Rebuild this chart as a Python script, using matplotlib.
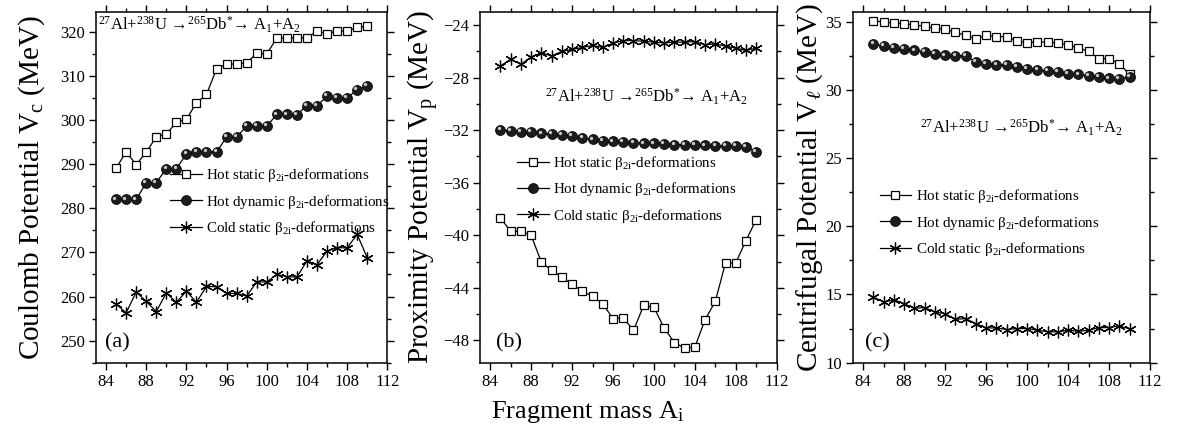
import matplotlib
matplotlib.use("Agg")
import matplotlib.pyplot as plt
from matplotlib.ticker import MultipleLocator
from matplotlib.transforms import ScaledTranslation
from matplotlib.lines import Line2D

plt.rcParams['font.family'] = ['Liberation Serif', 'DejaVu Serif']
plt.rcParams['mathtext.fontset'] = 'custom'
plt.rcParams['mathtext.rm'] = 'Liberation Serif'
plt.rcParams['mathtext.it'] = 'Liberation Serif:italic'
plt.rcParams['mathtext.bf'] = 'Liberation Serif:bold'

# ---------------- data ----------------
mass = list(range(85, 111))

vc_hot_static = [289.1, 292.8, 289.9, 292.7, 296.2, 296.8, 299.5, 300.2, 303.9, 305.8,
                 311.6, 312.7, 312.7, 313.0, 315.1, 315.0, 318.6, 318.6, 318.6, 318.6,
                 320.2, 319.6, 320.2, 320.2, 321.0, 321.3]
vc_hot_dynamic = [282.0, 282.0, 282.0, 285.8, 285.8, 289.0, 289.0, 292.3, 292.7, 292.7,
                  292.8, 296.1, 296.1, 298.7, 298.7, 298.6, 301.3, 301.3, 301.2, 303.3,
                  303.3, 305.4, 305.1, 305.0, 306.9, 307.7]
vc_cold_static = [258.3, 256.3, 261.0, 258.9, 256.6, 260.8, 258.7, 261.2, 258.7, 262.3,
                  262.2, 260.7, 260.7, 260.1, 263.3, 263.3, 265.0, 264.5, 264.4, 268.1,
                  267.2, 270.3, 271.1, 271.0, 274.1, 268.8]

vp_hot_static = [-38.67, -39.71, -39.69, -40.0, -42.05, -42.68, -43.19, -43.74, -44.25, -44.65,
                 -45.21, -46.35, -46.27, -47.24, -45.34, -45.49, -47.06, -48.17, -48.59, -48.51,
                 -46.43, -45.03, -42.09, -42.09, -40.4, -38.8]
vp_hot_dynamic = [-32.0, -32.05, -32.1, -32.15, -32.25, -32.3, -32.35, -32.45, -32.6, -32.7,
                  -32.8, -32.85, -32.9, -32.95, -33.0, -33.0, -33.05, -33.1, -33.1, -33.1,
                  -33.15, -33.2, -33.2, -33.2, -33.25, -33.65]
vp_cold_static = [-27.1, -26.6, -26.98, -26.43, -26.1, -26.35, -26.0, -25.85, -25.7, -25.55,
                  -25.7, -25.38, -25.18, -25.18, -25.23, -25.3, -25.35, -25.3, -25.3, -25.25,
                  -25.5, -25.43, -25.6, -25.75, -25.93, -25.75]

vl_hot_static = [35.07, 34.95, 34.9, 34.83, 34.76, 34.64, 34.51, 34.42, 34.22, 33.98,
                 33.74, 33.98, 33.9, 33.9, 33.57, 33.45, 33.5, 33.5, 33.42, 33.3,
                 33.06, 32.82, 32.28, 32.28, 31.92, 31.12]
vl_hot_dynamic = [33.37, 33.2, 33.06, 33.01, 32.89, 32.77, 32.65, 32.52, 32.48, 32.48,
                  32.04, 31.92, 31.84, 31.8, 31.67, 31.55, 31.48, 31.36, 31.31, 31.19,
                  31.12, 31.02, 30.95, 30.83, 30.78, 30.95]
vl_cold_static = [14.81, 14.44, 14.61, 14.32, 14.0, 14.03, 13.71, 13.59, 13.18, 13.23,
                  12.86, 12.55, 12.55, 12.43, 12.5, 12.5, 12.38, 12.26, 12.26, 12.38,
                  12.3, 12.38, 12.57, 12.57, 12.7, 12.48]

series_labels = [r"Hot static β$_{\mathrm{2i}}$-deformations",
                 r"Hot dynamic β$_{\mathrm{2i}}$-deformations",
                 r"Cold static β$_{\mathrm{2i}}$-deformations"]
ylabels = [r"Coulomb Potential V$_{\mathrm{c}}$ (MeV)",
           r"Proximity Potential V$_{\mathrm{p}}$ (MeV)",
           r"Centrifugal Potential V$_{\ell}$ (MeV)"]
panel_tags = ["(a)", "(b)", "(c)"]
reaction = r"$^{27}$Al+$^{238}$U$\,\rightarrow\!^{265}$Db$^{*}\!\rightarrow\,$A$_{1}$+A$_{2}$"
xlabel = r"Fragment mass A$_{\mathrm{i}}$"

# ---------------- figure ----------------
fig = plt.figure(figsize=(11.77, 4.4), dpi=100)
W, H = 1177.0, 440.0
bottom = (H - 362.7) / H
height = 350.7 / H
ax_a = fig.add_axes([96 / W, bottom, 291.3 / W, height])
ax_b = fig.add_axes([480 / W, bottom, 296.7 / W, height])
ax_c = fig.add_axes([853 / W, bottom, 297 / W, height])

panels = [
    (ax_a, vc_hot_static, vc_hot_dynamic, vc_cold_static, (245, 324.5), 10, 5,
     (0.255, 0.56), (0.007, 0.963), -0.168, (0.03, 0.056)),
    (ax_b, vp_hot_static, vp_hot_dynamic, vp_cold_static, (-49.7, -23.0), 4, 2,
     (0.125, 0.595), (0.219, 0.758), -0.131, (0.055, 0.056)),
    (ax_c, vl_hot_static, vl_hot_dynamic, vl_cold_static, (10, 35.7), 5, 2.5,
     (0.09, 0.50), (0.226, 0.669), -0.093, (0.04, 0.056)),
]

for i, (ax, hs, hd, cs, ylim, ymaj, ymin, legpos, reacpos, ylab_x, tagpos) in enumerate(panels):
    ax.plot(mass, hs, '-', color='black', lw=0.9, marker='s', ms=6,
            mfc='white', mec='black', mew=0.9, zorder=3)
    ax.plot(mass, hd, '-', color='black', lw=0.9, marker='o', ms=7.2,
            mfc='#1c1c1c', mec='black', mew=0.5, zorder=3)
    hl = ScaledTranslation(-1.3 / 72, 1.3 / 72, fig.dpi_scale_trans)
    ax.plot(mass, hd, 'o', ms=2.4, color='#c8c8c8', mec='none',
            transform=ax.transData + hl, zorder=4)
    ax.plot(mass, cs, '-', color='black', lw=0.9, marker=(6, 2, 0), ms=8.5,
            mec='black', mew=0.9, zorder=3)

    ax.set_xlim(83, 112)
    ax.set_ylim(*ylim)
    ax.xaxis.set_major_locator(MultipleLocator(4))
    ax.xaxis.set_minor_locator(MultipleLocator(2))
    ax.yaxis.set_major_locator(MultipleLocator(ymaj))
    ax.yaxis.set_minor_locator(MultipleLocator(ymin))
    ax.tick_params(which='both', direction='out', top=True, right=True,
                   labeltop=False, labelright=False, labelsize=12, width=1.0, pad=3)
    ax.tick_params(which='major', length=5)
    ax.tick_params(which='minor', length=3)
    for sp in ax.spines.values():
        sp.set_linewidth(1.1)

    ax.set_ylabel(ylabels[i], fontsize=21)
    ax.yaxis.set_label_coords(ylab_x, 0.5)

    handles = [
        Line2D([], [], color='black', lw=0.9, marker='s', ms=6, mfc='white', mec='black', mew=0.9),
        Line2D([], [], color='black', lw=0.9, marker='o', ms=7.2, mfc='#1c1c1c', mec='black', mew=0.5),
        Line2D([], [], color='black', lw=0.9, marker=(6, 2, 0), ms=8.5, mec='black', mew=0.9),
    ]
    ax.legend(handles, series_labels, loc='upper left', bbox_to_anchor=legpos,
              frameon=False, fontsize=10.8, handlelength=2.1, handletextpad=0.3,
              labelspacing=0.55, borderaxespad=0, borderpad=0)

    ax.text(reacpos[0], reacpos[1], reaction, transform=ax.transAxes,
            ha='left', va='center', fontsize=12)
    ax.text(tagpos[0], tagpos[1], panel_tags[i], transform=ax.transAxes,
            ha='left', va='center', fontsize=16)

fig.text(588 / W, 1 - 412 / H, xlabel, ha='center', va='center', fontsize=19)

fig.savefig("out.png", dpi=100)
